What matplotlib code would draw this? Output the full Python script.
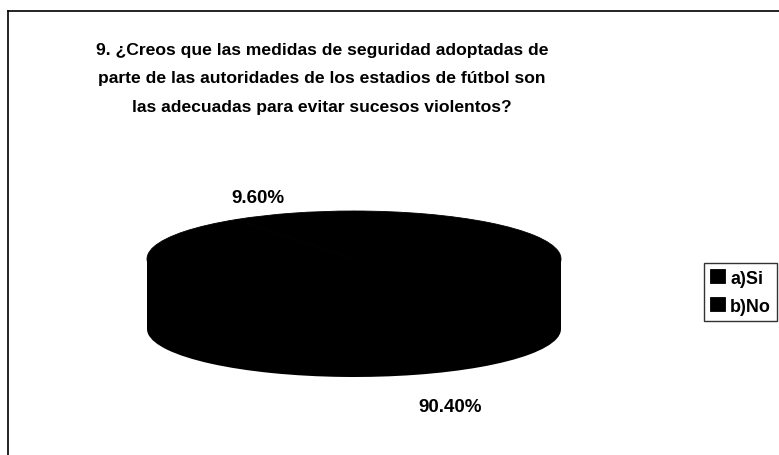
import numpy as np
import matplotlib.pyplot as plt
from matplotlib.lines import Line2D

# Survey answers (percent)
labels = ["a)Si", "b)No"]
values = [9.60, 90.40]
colors = ["#000000", "#000000"]

title = ("9. ¿Creos que las medidas de seguridad adoptadas de\n"
         "parte de las autoridades de los estadios de fútbol son\n"
         "las adecuadas para evitar sucesos violentos?")

W, H = 779, 456
fig = plt.figure(figsize=(W / 100, H / 100), dpi=100)
plt.rcParams['font.family'] = ['Liberation Sans', 'DejaVu Sans']

# pie geometry in pixels: centre, half width, half height, depth
cx, cy, rx, ry, depth_px = 354, 260, 207, 48, 70
depth = depth_px / ry

ax = fig.add_axes([0, 0, 1, 1])
# bottom layer, side wall, top layer
ax.pie(values, colors=colors, startangle=90, counterclock=True,
       center=(0, -depth), wedgeprops=dict(linewidth=0))
ax.fill_between([-1, 1], -depth, 0, color="black", linewidth=0)
wedges, _ = ax.pie(values, colors=colors, startangle=90, counterclock=True,
                   center=(0, 0), wedgeprops=dict(linewidth=0.6, edgecolor="black"))
ax.set_aspect("auto")
ax.set_xlim(-cx / rx, (W - cx) / rx)
ax.set_ylim((cy - H) / ry, cy / ry)
ax.axis("off")

# percentage labels at the middle angle of each slice
start = 90.0
for i, v in enumerate(values):
    mid = np.radians(start + v / 100 * 360 / 2)
    start += v / 100 * 360
    lx = 1.57 * np.cos(mid)
    ly = 1.35 * np.sin(mid)
    if ly < 0:
        ly = ly * 1.25 - depth
    ax.text(lx, ly, f"{v:.2f}%", ha="center", va="center",
            fontsize=13.5, fontweight="bold")

fig.text(322 / W, 1 - 79 / H, title, ha="center", va="center",
         fontsize=12.6, fontweight="bold", linespacing=2.1)

leg = fig.legend(wedges, labels, loc="upper left",
                 bbox_to_anchor=(704 / W, 1 - 264 / H),
                 frameon=True, fancybox=False, fontsize=13,
                 handlelength=0.8, handleheight=0.8, handletextpad=0.3,
                 borderpad=0.35, labelspacing=0.6, borderaxespad=0)
leg.get_frame().set_edgecolor("black")
leg.get_frame().set_linewidth(1.0)
for t in leg.get_texts():
    t.set_fontweight("bold")

# chart frame
fig.add_artist(Line2D([8 / W, 8 / W], [0, 1 - 12 / H], color="black", lw=1.2))
fig.add_artist(Line2D([8 / W, 1], [1 - 12 / H, 1 - 12 / H], color="black", lw=1.2))

fig.savefig("out.png", dpi=100)
